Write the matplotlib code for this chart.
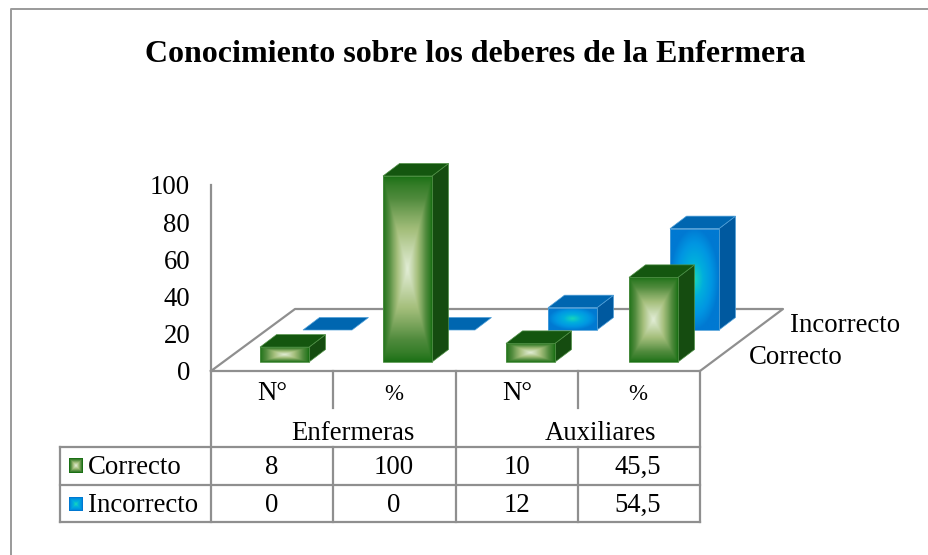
import numpy as np
import matplotlib
matplotlib.use('Agg')
import matplotlib.pyplot as plt
from matplotlib.colors import LinearSegmentedColormap
from matplotlib.patches import Polygon
from matplotlib.transforms import Affine2D

plt.rcParams['font.family'] = ['Liberation Serif', 'DejaVu Serif']

titulo = 'Conocimiento sobre los deberes de la Enfermera'
grupos = ['Enfermeras', 'Auxiliares']
columnas = ['N°', '%', 'N°', '%']
series = ['Correcto', 'Incorrecto']
correcto = [8, 100, 10, 45.5]
incorrecto = [0, 0, 12, 54.5]
correcto_txt = ['8', '100', '10', '45,5']
incorrecto_txt = ['0', '0', '12', '54,5']
yticks = [0, 20, 40, 60, 80, 100]

W, H = 929, 555
GRIS = '#8f8f8f'
PX_POR_UNIDAD = 1.86  # 100 unidades = 186 px
Y0 = 371              # pixel del 0
LETRA = 19.3

verde = LinearSegmentedColormap.from_list('verde', ['#1b7015', '#4f8a3c', '#a5bf7c', '#e2edd6'])
azul = LinearSegmentedColormap.from_list('azul', ['#0079d2', '#0096e2', '#00aedd', '#17d6bb'])

fig = plt.figure(figsize=(W / 100, H / 100), dpi=100)
ax = fig.add_axes([0, 0, 1, 1])
ax.patch.set_alpha(0)
limites_x = (0, W)
limites_y = ((Y0 - H) / PX_POR_UNIDAD, Y0 / PX_POR_UNIDAD)

# transformacion en pixeles de la imagen, para tabla y marco
px = Affine2D().scale(1, -1).translate(0, H)


def alto(p):
    return p / PX_POR_UNIDAD


def linea(x, y, lw=1.6, color=GRIS):
    ax.plot(x, y, color=color, lw=lw, transform=px, clip_on=False, solid_capstyle='projecting', zorder=1)


def texto(x, y, s, size=LETRA, ha='center', **kw):
    ax.text(x, y, s, transform=px, fontsize=size, ha=ha, va='center', color='black', **kw)


def degradado(nx, ny, tipo):
    u, v = np.meshgrid(np.linspace(-1, 1, nx), np.linspace(-1, 1, ny))
    if tipo == 'rect':
        return (1 - np.maximum(np.abs(u), np.abs(v))) ** 0.75
    return np.clip(1 - np.sqrt(u ** 2 + v ** 2), 0, 1) ** 0.9


def cara_grad(puntos, cmap, tipo, z):
    pts = np.array(puntos)
    ext = (pts[:, 0].min(), pts[:, 0].max(), pts[:, 1].min(), pts[:, 1].max())
    im = ax.imshow(degradado(60, 90, tipo), cmap=cmap, extent=ext, aspect='auto', zorder=z,
                   vmin=0, vmax=1, interpolation='bilinear')
    recorte = Polygon(puntos, closed=True, transform=ax.transData, fc='none', ec='none')
    ax.add_patch(recorte)
    im.set_clip_path(recorte)


def barra_3d(x, base, valor, ancho, cmap, tipo, c_top, c_lado, borde, z):
    dx, dy = 16.5, alto(12.5)
    frente = [(x, base), (x + ancho, base), (x + ancho, base + valor), (x, base + valor)]
    lado = [(x + ancho, base), (x + ancho + dx, base + dy), (x + ancho + dx, base + valor + dy),
            (x + ancho, base + valor)]
    techo = [(x, base + valor), (x + ancho, base + valor), (x + ancho + dx, base + valor + dy),
             (x + dx, base + valor + dy)]
    if valor > 0:
        ax.add_patch(Polygon(lado, closed=True, fc=c_lado, ec=borde, lw=0.5, zorder=z))
        cara_grad(frente, cmap, tipo, z + 0.1)
        ax.add_patch(Polygon(frente, closed=True, fc='none', ec=borde, lw=0.6, zorder=z + 0.2))
    ax.add_patch(Polygon(techo, closed=True, fc=c_top, ec=borde, lw=0.5, zorder=z + 0.3))


# eje Y con sus valores
ax.set_xlim(*limites_x)
ax.set_ylim(*limites_y)
ax.set_xticks([])
ax.set_yticks(yticks)
ax.tick_params(axis='y', length=0, labelsize=LETRA, pad=15, direction='out')
for s in ['top', 'right', 'bottom']:
    ax.spines[s].set_visible(False)
ax.spines['left'].set_position(('data', 211))
ax.spines['left'].set_bounds(0, 100)
ax.spines['left'].set_color(GRIS)
ax.spines['left'].set_linewidth(1.6)

# marco exterior: solo arriba y a la izquierda
linea([10.5, 10.5, W], [H, 8.5, 8.5], lw=1.4, color='#9a9a9a')

# piso
linea([211, 295, 783, 700, 211], [371, 309, 309, 371, 371])

# barras: primero la serie de atras
x_inc = [303, 426, 548, 670]
x_cor = [260, 383, 506, 629]
base_inc = alto(371 - 330)
base_cor = alto(371 - 362)
for i, v in enumerate(incorrecto):
    barra_3d(x_inc[i], base_inc, v, 49, azul, 'radial', '#0066b0', '#00599f', '#4f9fd8', 3 + i)
for i, v in enumerate(correcto):
    barra_3d(x_cor[i], base_cor, v, 49, verde, 'rect', '#14560f', '#154c10', '#4f9045', 10 + i)

ax.set_xlim(*limites_x)
ax.set_ylim(*limites_y)

# etiquetas de la profundidad
texto(790, 326, series[1], ha='left')
texto(749, 358, series[0], ha='left')

# tabla
linea([211, 211], [371, 522])
for x in [333, 578]:
    linea([x, x], [371, 408])
    linea([x, x], [447, 522])
for x in [456, 700]:
    linea([x, x], [371, 522])
for y in [447, 485, 522]:
    linea([60, 700], [y, y])
linea([60, 60], [447, 522])

centros = [272, 394, 517, 638]
for x, s in zip(centros, columnas):
    texto(x, 394, s, size=16.5 if s == '%' else LETRA)
texto(353, 434, grupos[0])
texto(600, 434, grupos[1])
for fila_y, fila in zip([467, 505], [correcto_txt, incorrecto_txt]):
    for x, s in zip(centros, fila):
        texto(x, fila_y, s)

# claves de la leyenda
for y, nombre, cmap, tipo in [(466, series[0], verde, 'rect'), (504, series[1], azul, 'rect')]:
    y_dat = (Y0 - y) / PX_POR_UNIDAD
    ax.imshow(degradado(14, 14, tipo), cmap=cmap, aspect='auto', vmin=0, vmax=1, zorder=5,
              extent=(69, 83, y_dat - alto(7), y_dat + alto(7)), interpolation='bilinear')
    texto(88, y + 1, nombre, ha='left')
ax.set_xlim(*limites_x)
ax.set_ylim(*limites_y)

texto(475, 54, titulo, size=23, fontweight='bold')

fig.savefig('out.png', dpi=100)
